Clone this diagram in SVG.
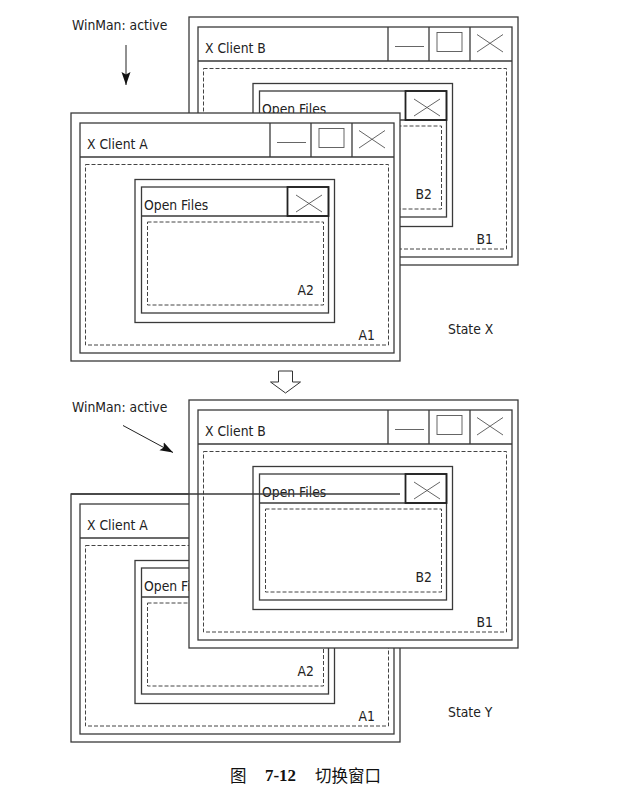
<svg xmlns="http://www.w3.org/2000/svg" xmlns:xlink="http://www.w3.org/1999/xlink" width="619" height="797" viewBox="0 0 619 797">
<style>
.fr{fill:none;stroke:#3a3a3a;stroke-width:1.3}
.bg{fill:#fff;stroke:#3a3a3a;stroke-width:1.3}
.th{fill:none;stroke:#555;stroke-width:0.9}
.dash{fill:none;stroke:#444;stroke-width:1;stroke-dasharray:4 2}
.cb{fill:none;stroke:#222;stroke-width:1.8}
.t{font-family:"DejaVu Sans Condensed","DejaVu Sans",sans-serif;font-stretch:condensed;font-size:13.8px;fill:#222}
.arr{stroke:#222;stroke-width:1;fill:none}
.cap{font-family:"Noto Sans CJK SC",sans-serif;font-size:16.5px;fill:#111}
.num{font-family:"Liberation Serif",serif;font-size:16px;font-weight:bold;fill:#111}
</style>
<defs>
<g id="win">
<rect class="bg" x="0" y="0" width="329" height="248"/>
<rect class="fr" x="9" y="10" width="314" height="230"/>
<line class="fr" x1="9" y1="44" x2="323" y2="44"/>
<line class="fr" x1="199" y1="10" x2="199" y2="44"/>
<line class="fr" x1="240" y1="10" x2="240" y2="44"/>
<line class="fr" x1="281" y1="10" x2="281" y2="44"/>
<line class="th" x1="206" y1="29.5" x2="235" y2="29.5"/>
<rect class="th" x="248" y="15.5" width="25" height="19"/>
<path class="th" d="M288,17.5 L314,35 M288,35 L314,17.5"/>
<rect class="dash" x="14.5" y="51.5" width="303" height="180.5"/>
<rect class="fr" x="64" y="66.5" width="199.5" height="143"/>
<rect class="fr" x="70.5" y="74" width="187" height="126"/>
<line class="fr" x1="70.5" y1="103" x2="257.5" y2="103"/>
<rect class="cb" x="216.5" y="74" width="41" height="29"/>
<path class="th" d="M225,82 L251,99 M225,99 L251,82"/>
<rect class="dash" x="76.5" y="109" width="176" height="83"/>
</g>
<marker id="ah" markerUnits="userSpaceOnUse" markerWidth="14" markerHeight="10" viewBox="0 0 14 10" refX="13" refY="5" orient="auto">
<path d="M0,0.5 L13,5 L0,9.5 L2.5,5 z" fill="#111"/>
</marker>
</defs>

<!-- State X -->
<g id="stateX-clientB" transform="translate(189,17)">
<use xlink:href="#win" href="#win"/>
<text class="t" x="16" y="35.5">X Client B</text>
<text class="t" x="73" y="97">Open Files</text>
<text class="t" x="243" y="182" text-anchor="end">B2</text>
<text class="t" x="304" y="226.5" text-anchor="end">B1</text>
</g>
<g id="stateX-clientA" transform="translate(71,113)">
<use xlink:href="#win" href="#win"/>
<text class="t" x="16" y="35.5">X Client A</text>
<text class="t" x="73" y="97">Open Files</text>
<text class="t" x="243" y="182" text-anchor="end">A2</text>
<text class="t" x="304" y="226.5" text-anchor="end">A1</text>
</g>
<g id="stateX-labels">
<text class="t" x="72" y="29.5">WinMan: active</text>
<text class="t" x="448" y="334">State X</text>
</g>

<!-- State Y -->
<g id="stateY-clientA" transform="translate(71,494)">
<use xlink:href="#win" href="#win"/>
<text class="t" x="16" y="35.5">X Client A</text>
<text class="t" x="73" y="97">Open Files</text>
<text class="t" x="243" y="182" text-anchor="end">A2</text>
<text class="t" x="304" y="226.5" text-anchor="end">A1</text>
</g>
<g id="stateY-clientB" transform="translate(189,400)">
<use xlink:href="#win" href="#win"/>
<text class="t" x="16" y="35.5">X Client B</text>
<text class="t" x="73" y="97">Open Files</text>
<text class="t" x="243" y="182" text-anchor="end">B2</text>
<text class="t" x="304" y="226.5" text-anchor="end">B1</text>
</g>
<line class="fr" x1="71" y1="494" x2="400" y2="494"/>
<g id="stateY-labels">
<text class="t" x="72" y="412">WinMan: active</text>
<text class="t" x="448" y="716.5">State Y</text>
</g>

<g id="connectors">
<line class="arr" x1="126" y1="45" x2="126" y2="85" marker-end="url(#ah)"/>
<line class="arr" x1="123" y1="425.5" x2="173" y2="452.5" marker-end="url(#ah)"/>
<polygon points="278.5,371 292.5,371 292.5,382 300.5,382 285.5,393 270.5,382 278.5,382" fill="#fff" stroke="#333" stroke-width="1"/>
</g>

<g id="caption">
<text class="cap" x="230" y="781.5">图</text>
<text class="num" x="265" y="781" textLength="31" lengthAdjust="spacingAndGlyphs">7-12</text>
<text class="cap" x="315" y="781.5">切换窗口</text>
</g>
</svg>
